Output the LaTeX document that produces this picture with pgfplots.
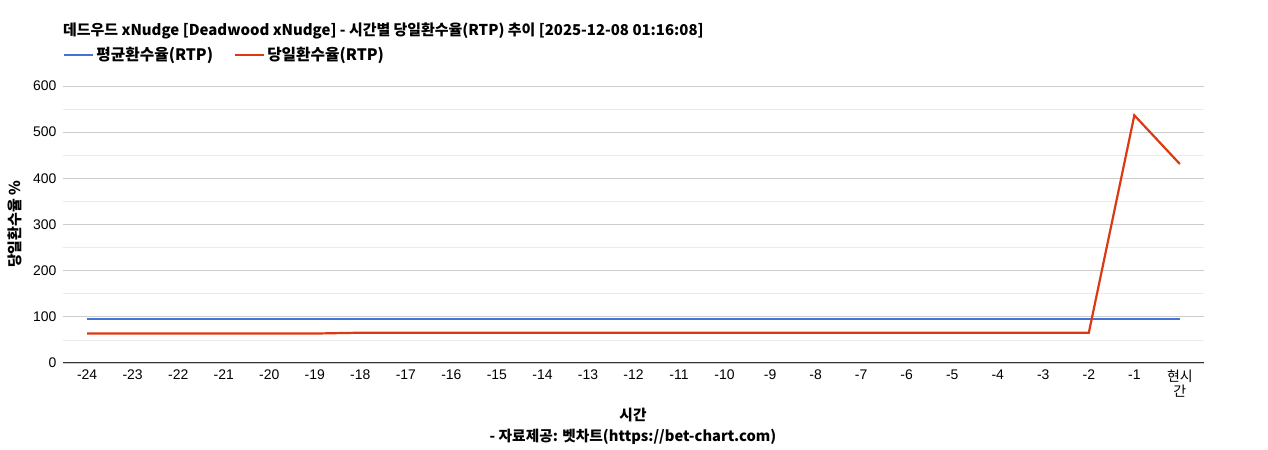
\documentclass[border=0pt]{standalone}
\usepackage{pgfplots}
\pgfplotsset{compat=1.18}
\usepackage{fontspec}
\setmainfont{Liberation Sans}
\newfontfamily\kr{Noto Sans CJK KR}
\definecolor{avgblue}{RGB}{68,114,214}
\definecolor{dayred}{RGB}{220,57,18}
\definecolor{gridmaj}{RGB}{204,204,204}
\definecolor{gridmin}{RGB}{235,235,235}

% hours: 0 = -24 ... 24 = now
\pgfplotstableread{
x avg day
0  95.3 63.8
1  95.3 63.8
2  95.3 63.8
3  95.3 63.8
4  95.3 63.8
5  95.3 63.8
6  95.3 65.6
7  95.3 65.6
8  95.3 65.6
9  95.3 65.6
10 95.3 65.6
11 95.3 65.6
12 95.3 65.6
13 95.3 65.6
14 95.3 65.6
15 95.3 65.6
16 95.3 65.6
17 95.3 65.6
18 95.3 65.6
19 95.3 65.6
20 95.3 65.6
21 95.3 65.6
22 95.3 65.6
23 95.3 536.5
24 95.3 431.0
}\rtp

\begin{document}
\begin{tikzpicture}
\path (0bp,0bp) rectangle (1268bp,450bp);
\begin{axis}[
  at={(63bp,87bp)}, anchor=south west,
  scale only axis, width=1141bp, height=277bp,
  xmin=-0.53, xmax=24.53, ymin=0, ymax=600,
  xtick={0,...,24},
  xticklabels={-24,-23,-22,-21,-20,-19,-18,-17,-16,-15,-14,-13,-12,-11,-10,-9,-8,-7,-6,-5,-4,-3,-2,-1,{\kr 현시\\\kr 간}},
  ytick={0,100,...,600},
  minor ytick={50,150,...,550},
  ymajorgrids, yminorgrids,
  major grid style={gridmaj, line width=0.8bp},
  minor grid style={gridmin, line width=0.8bp},
  axis x line=bottom, axis y line=left,
  axis line style={-},
  x axis line style={color=black!80, line width=1bp},
  y axis line style={draw=none},
  major tick length=0pt, minor tick length=0pt,
  tick label style={font=\fontsize{14}{15.5}\selectfont},
  /pgf/number format/assume math mode=true,
  xticklabel style={align=center, yshift=-3bp},
  yticklabel style={xshift=-3bp},
  ylabel={\kr\bfseries 당일환수율 \%},
  ylabel style={at={(axis description cs:-0.042,0.5)}, anchor=center, font=\fontsize{15}{16}\selectfont},
  legend columns=2,
  legend style={at={(axis description cs:0,1.112)}, anchor=west, draw=none, fill=none,
    inner sep=0pt, font=\kr\bfseries\fontsize{15.8}{17}\selectfont,
    /tikz/every even column/.append style={column sep=19bp}},
  legend image code/.code={\draw[#1] (0bp,0bp) -- (29bp,0bp);},
  clip=false,
]
\addplot[avgblue, line width=2.2bp] table[x=x, y=avg] {\rtp};
\addlegendentry{평균환수율(RTP)}
\addplot[dayred, line width=2.2bp] table[x=x, y=day] {\rtp};
\addlegendentry{당일환수율(RTP)}
\end{axis}
\node[anchor=base west, inner sep=0pt, font=\kr\bfseries\fontsize{15}{17}\selectfont] at (63bp,414bp)
  {데드우드 xNudge [Deadwood xNudge] - 시간별 당일환수율(RTP) 추이 [2025-12-08 01:16:08]};
\node[inner sep=0pt, font=\kr\bfseries\fontsize{14.75}{17}\selectfont] at (633bp,35bp) {시간};
\node[inner sep=0pt, font=\kr\bfseries\fontsize{14.75}{17}\selectfont] at (633bp,13bp) {- 자료제공: 벳차트(https://bet-chart.com)};
\end{tikzpicture}
\end{document}
